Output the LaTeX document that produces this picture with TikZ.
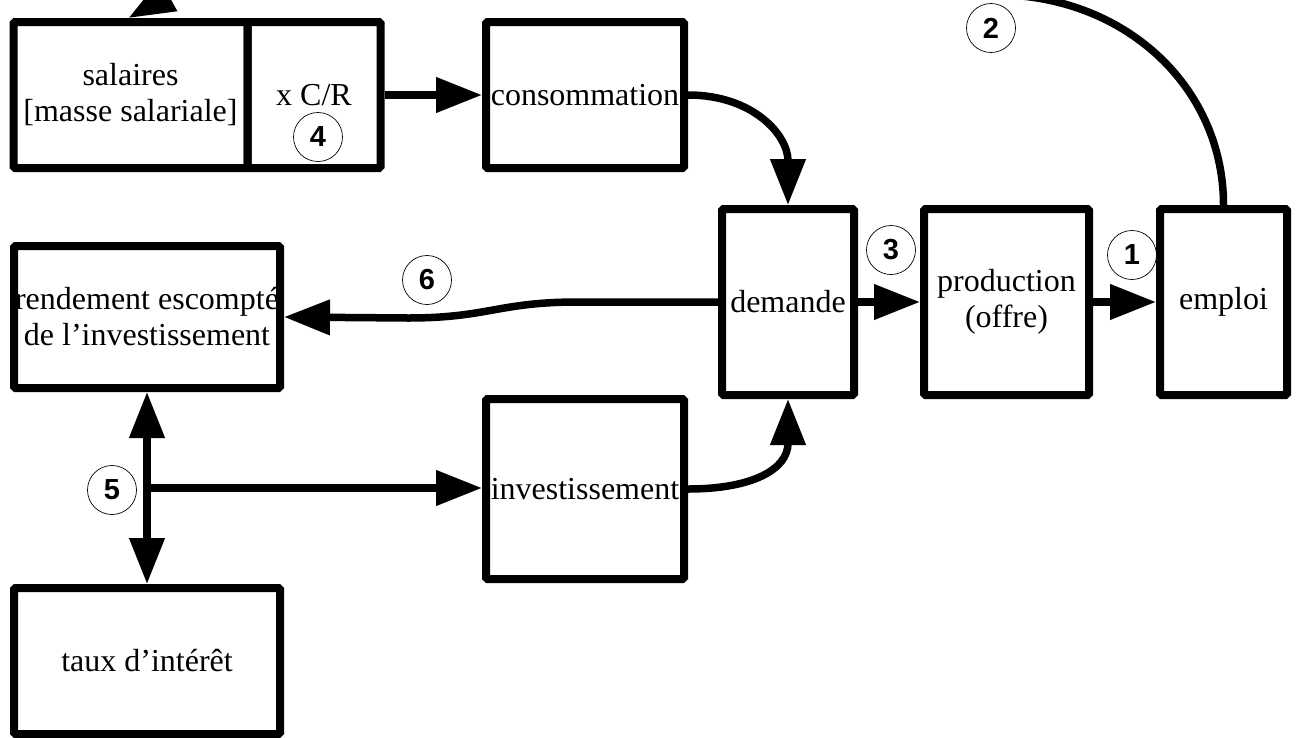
\documentclass[tikz,border=0pt]{standalone}
\usepackage{fontspec}
\setmainfont{Liberation Serif}
\setsansfont{Liberation Sans}
\usetikzlibrary{positioning,arrows.meta,calc}

\begin{document}
\begin{tikzpicture}[x=1pt, y=-1pt,
box node/.style={rectangle,draw,line width=8pt,rounded corners=1.5pt,inner sep=0pt,align=center,font=\fontsize{32}{36}\selectfont},
num node/.style={circle,draw,line width=0.7pt,minimum size=49pt,inner sep=0pt,font=\sffamily\bfseries\fontsize{29}{29}\selectfont},
big arrow/.style={line width=7.5pt,-{Triangle[length=46pt,width=34pt]}}]

\useasboundingbox (0,0) rectangle (1296,737);
\clip (0,0) rectangle (1296,737);

\node[box node] (sal) at (130.5,95) [minimum width=234pt,minimum height=146pt] {salaires\\{[masse salariale]}};
\node[box node] (cr) [right=-8pt of sal,minimum width=133pt,minimum height=146pt] {x C/R};
\node[box node] (cons) at (585,95) [minimum width=198pt,minimum height=146pt] {consommation};
\node[box node] (dem) at (788,302) [minimum width=132pt,minimum height=186pt] {demande};
\node[box node] (prod) at (1006.5,302) [minimum width=165pt,minimum height=186pt] {production\\(offre)};
\node[box node] (empl) at (1223.5,302) [minimum width=127pt,minimum height=186pt] {emploi};
\node[box node] (rend) at (147,317) [minimum width=266pt,minimum height=142pt] {rendement escompté\\de l’investissement};
\node[box node] (inv) at (585,489) [minimum width=198pt,minimum height=180pt] {investissement};
\node[box node] (taux) at (147,661) [minimum width=266pt,minimum height=146pt] {taux d’intérêt};

\node[num node] (n1) at (1132,255) {1};
\node[num node] (n2) at (991,28) {2};
\node[num node] (n3) at (891,250) {3};
\node[num node] (n4) at (318,137) {4};
\node[num node] (n5) at (112,490) {5};
\node[num node] (n6) at (427,280) {6};

\foreach \a/\b in {cr/cons,dem/prod,prod/empl}
\path (\a) edge[big arrow] (\b);

\draw[big arrow] (cons.east) .. controls +(65,0) and +(0,-70) .. (dem.north);
\draw[big arrow] (inv.east) .. controls +(65,0) and +(0,70) .. (dem.south);
\draw[big arrow] (dem.west) -- ++(-140,0) .. controls +(-80,0) and +(80,0) .. ++(-170,16) -- (rend.east);
\draw[big arrow] (empl.north) .. controls +(0,-108) and (1140,8) .. (1022,-4)
  .. controls (800,-30) and (285,-70) .. ([xshift=-2pt]sal.north);

\draw[line width=7.5pt,{Triangle[length=46pt,width=34pt]}-{Triangle[length=46pt,width=34pt]}] (rend.south) -- (taux.north);
\coordinate (br) at ($(rend.south)!0.5!(taux.north)$);
\draw[big arrow] (br) -- (br -| inv.west);
\end{tikzpicture}
\end{document}
